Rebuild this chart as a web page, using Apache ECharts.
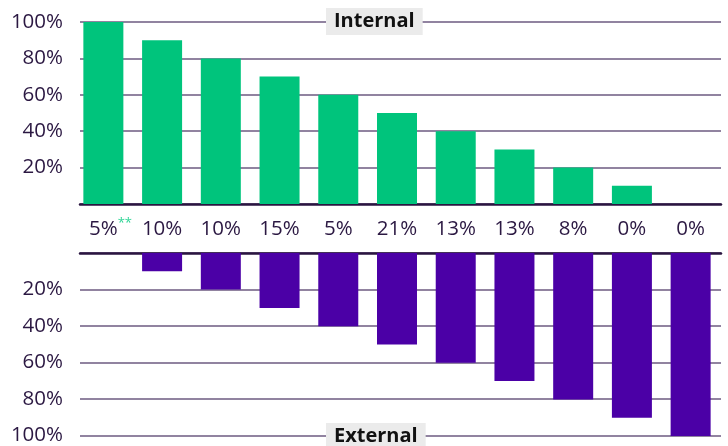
<!DOCTYPE html>
<html><head><meta charset="utf-8">
<script src="https://cdn.jsdelivr.net/npm/echarts@6/dist/echarts.min.js"></script>
<style>html,body{margin:0;padding:0;background:#fff}#c{width:728px;height:446px}</style>
</head><body><div id="c"></div>
<script>
const categories = ['5%','10%','10%','15%','5%','21%','13%','13%','8%','0%','0%'];
const internalValues = [100,90,80,70,60,50,40,30,20,10,0];
const externalValues = [0,10,20,30,40,50,60,70,80,90,100];
const topTitle = 'Internal';
const bottomTitle = 'External';

const FONT = '"Open Sans", sans-serif';
const TXT = '#2b1842';
const GRIDC = '#6c5a80';
const AXC = '#2a1540';
const GREEN = '#00c47c';
const PURPLE = '#4b00a6';

const chart = echarts.init(document.getElementById('c'), null, {renderer:'canvas'});
const pct = v => v === 0 ? '' : v + '%';
const valAxisLines = (gi, inverse) => ({
  type:'value', gridIndex:gi, min:0, max:100, interval:20, inverse:inverse,
  axisLine:{show:false}, axisTick:{show:false},
  axisLabel:{formatter:pct, color:TXT, fontSize:20.5, fontFamily:FONT, margin:17},
  splitLine:{lineStyle:{color:GRIDC, width:1.5}}
});
const valAxisHidden = (gi, inverse) => ({
  type:'value', gridIndex:gi, min:0, max:100, interval:20, inverse:inverse, show:false
});
chart.setOption({
  animation:false,
  textStyle:{fontFamily:FONT},
  grid:[
    {left:80, right:7, top:22, height:182},
    {left:74, right:8, top:22, height:182},
    {left:80, right:7, top:253, height:183},
    {left:74, right:8, top:253, height:183}
  ],
  xAxis:[
    {type:'category', gridIndex:0, data:categories, position:'bottom',
     axisLine:{lineStyle:{color:AXC, width:2.5}}, axisTick:{show:false}, axisLabel:{show:false}},
    {type:'category', gridIndex:1, data:categories, position:'bottom',
     axisLine:{show:false}, axisTick:{show:false},
     axisLabel:{color:TXT, fontSize:20.5, fontFamily:FONT, margin:12, interval:0,
       formatter:(v,i)=> i===0 ? '{h|**}{m|' + v + '}{s|**}' : '{m|' + v + '}',
       rich:{
         m:{fontSize:20.5, color:TXT, fontFamily:FONT, lineHeight:26},
         h:{fontSize:13, color:'rgba(0,0,0,0)', fontFamily:FONT, lineHeight:14, padding:[0,0,12,0]},
         s:{fontSize:13, color:'#2fd596', fontFamily:FONT, lineHeight:14, padding:[0,0,12,0]}
       }}},
    {type:'category', gridIndex:2, data:categories, position:'top',
     axisLine:{lineStyle:{color:AXC, width:2.5}}, axisTick:{show:false}, axisLabel:{show:false}},
    {type:'category', gridIndex:3, data:categories, position:'top', show:false}
  ],
  yAxis:[
    valAxisLines(0,false), valAxisHidden(1,false),
    valAxisLines(2,true), valAxisHidden(3,true)
  ],
  title:[
    {text:topTitle, left:326, top:8,
     backgroundColor:'#ebebeb', padding:[3,8,3,8],
     textStyle:{fontSize:20, fontWeight:'bold', color:'#111', fontFamily:FONT, lineHeight:21}},
    {text:bottomTitle, left:326, top:423,
     backgroundColor:'#ebebeb', padding:[3,8,3,8],
     textStyle:{fontSize:20, fontWeight:'bold', color:'#111', fontFamily:FONT, lineHeight:21}}
  ],
  series:[
    {type:'bar', xAxisIndex:1, yAxisIndex:1, data:internalValues, barWidth:40,
     itemStyle:{color:GREEN}, z:3},
    {type:'bar', xAxisIndex:3, yAxisIndex:3, data:externalValues, barWidth:40,
     itemStyle:{color:PURPLE}, z:3}
  ]
});
</script></body></html>
